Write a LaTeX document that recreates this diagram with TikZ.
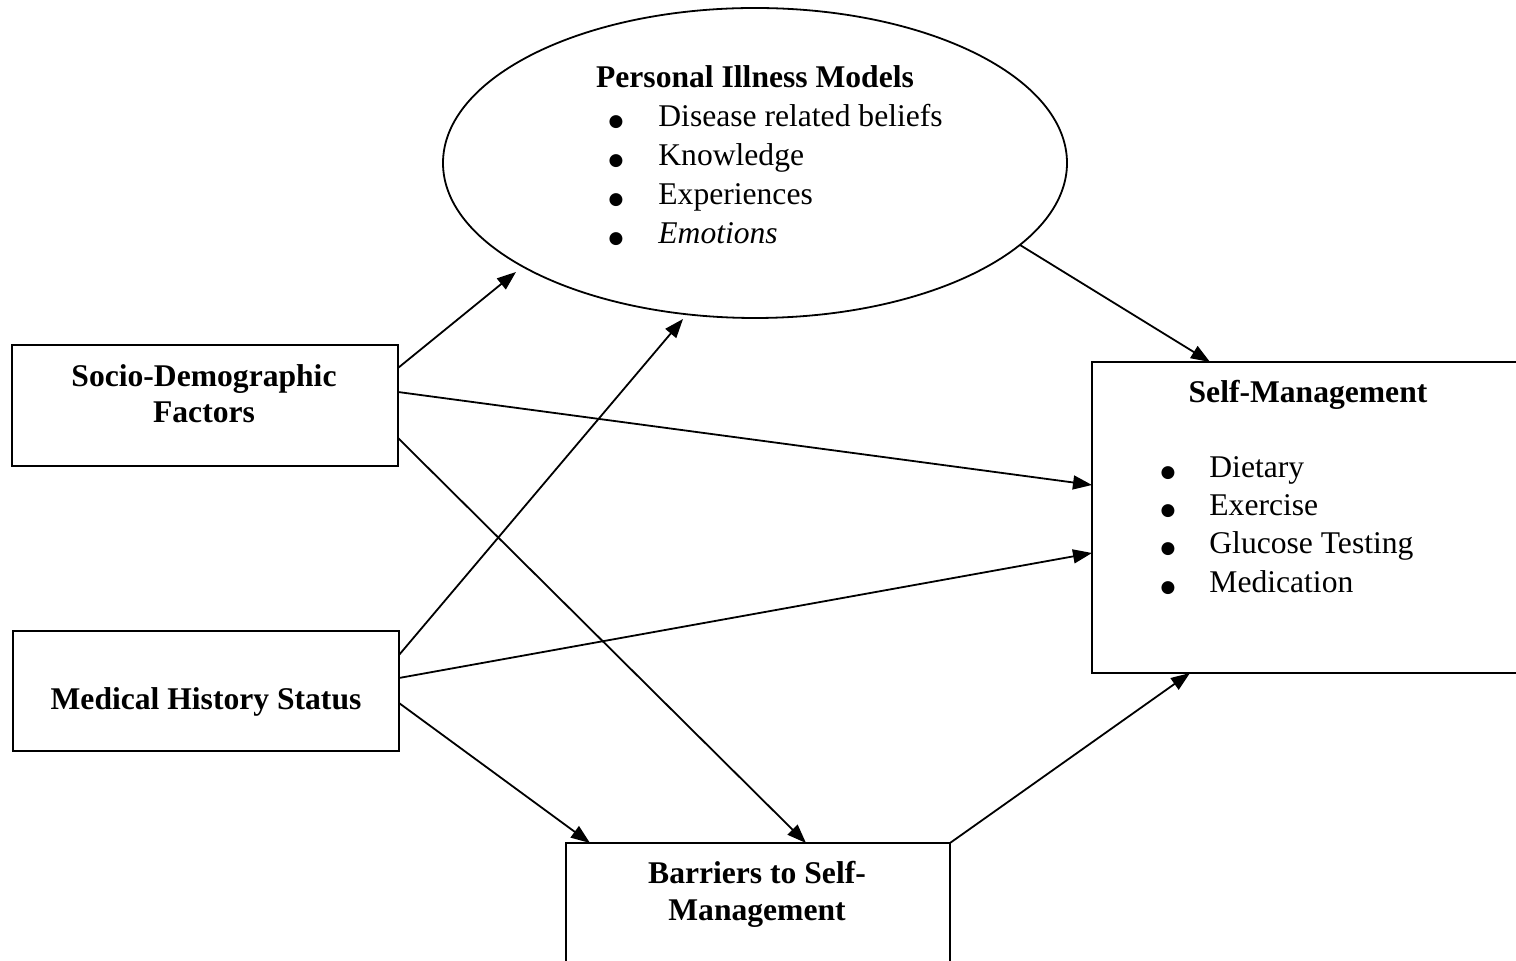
\documentclass[tikz,border=0pt]{standalone}
\usepackage{fontspec}
\setmainfont{Liberation Serif}
\newfontfamily\symf{DejaVu Sans}
\usetikzlibrary{shapes.geometric,arrows.meta,calc}
\begin{document}
\begin{tikzpicture}[x=0.5pt,y=-0.5pt,
  box/.style={draw,line width=1pt,rectangle,inner sep=0pt,outer sep=0pt},
  arr/.style={line width=0.9pt,-{Triangle[length=9.5pt,width=7pt]}},
  txt/.style={inner sep=0pt,anchor=base,font=\fontsize{15.8}{19}\selectfont},
  bul/.style={inner sep=0pt,anchor=base,font=\symf\fontsize{8.5}{10}\selectfont},
  btxt/.style={inner sep=0pt,anchor=base,font=\fontsize{15.8}{19}\selectfont\bfseries},
  ltxt/.style={inner sep=0pt,anchor=base west,font=\fontsize{15.8}{19}\selectfont}]
\useasboundingbox (0,0) rectangle (1516,961);
\clip (0,0) rectangle (1516,961);

% shapes
\node[draw,ellipse,line width=0.9pt,minimum width=312pt,minimum height=155pt,inner sep=0pt,outer sep=0pt] (pim) at (755,163) {};
\node[box,minimum width=193pt,minimum height=60.5pt] (soc) at (205,405.5) {};
\node[box,minimum width=193pt,minimum height=60pt] (med) at (206,691) {};
\node[box,minimum width=224pt,minimum height=155.5pt] (sm) at (1316,517.5) {};
\node[box,minimum width=192pt,minimum height=73.5pt] (bar) at (758,916.5) {};

% ellipse text
\node[btxt] (pimt) at (755,88) {Personal Illness Models};
\node[bul] (pb1) at (616,127) {●};
\node[bul] (pb2) at (616,166) {●};
\node[bul] (pb3) at (616,205) {●};
\node[bul] (pb4) at (616,244) {●};
\node[ltxt] (pi1) at (658,127) {Disease related beliefs};
\node[ltxt] (pi2) at (658,166) {Knowledge};
\node[ltxt] (pi3) at (658,205) {Experiences};
\node[ltxt] (pi4) at (658,244) {\itshape Emotions};

% box texts
\node[btxt] (soct1) at (204,387) {Socio-Demographic};
\node[btxt] (soct2) at (204,423) {Factors};
\node[btxt] (medt) at (206,710) {Medical History Status};
\node[btxt] (smt) at (1308,403) {Self-Management};
\node[bul] (sb1) at (1168,478) {●};
\node[bul] (sb2) at (1168,516) {●};
\node[bul] (sb3) at (1168,554) {●};
\node[bul] (sb4) at (1168,593) {●};
\node[ltxt] (si1) at (1209,478) {Dietary};
\node[ltxt] (si2) at (1209,516) {Exercise};
\node[ltxt] (si3) at (1209,554) {Glucose Testing};
\node[ltxt] (si4) at (1209,593) {Medication};
\node[btxt] (bart1) at (757,884) {Barriers to Self-};
\node[btxt] (bart2) at (757,921) {Management};

% connectors
\draw[arr] ([yshift=-11.5pt]soc.north east) -- ($(pim.center)+(-239,109)$);
\draw[arr] ([yshift=-23.5pt]soc.north east) -- ([yshift=-61.5pt]sm.north west);
\draw[arr] ([yshift=-46.5pt]soc.north east) -- ([xshift=120pt]bar.north west);
\draw[arr] ([yshift=-12pt]med.north east) -- ($(pim.center)+(-72,156)$);
\draw[arr] ([yshift=-23.5pt]med.north east) -- ([yshift=-95.5pt]sm.north west);
\draw[arr] ([yshift=-36pt]med.north east) -- ([xshift=12pt]bar.north west);
\draw[arr] ($(pim.center)+(265,82)$) -- ([xshift=59pt]sm.north west);
\draw[arr] (bar.north east) -- ([xshift=49pt]sm.south west);
\end{tikzpicture}
\end{document}
